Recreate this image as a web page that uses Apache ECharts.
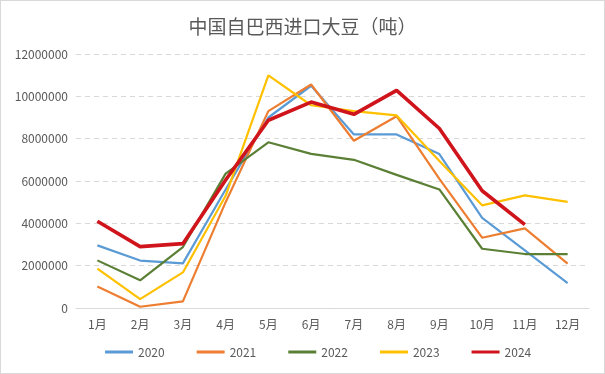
<!DOCTYPE html>
<html><head><meta charset="utf-8">
<script src="https://cdn.jsdelivr.net/npm/echarts@6/dist/echarts.min.js"></script>
<style>html,body{margin:0;padding:0;background:#fff}#c{width:603px;height:372px;border:1px solid #d9d9d9}</style>
</head><body><div id="c"></div>
<script>
const categories = ['1月','2月','3月','4月','5月','6月','7月','8月','9月','10月','11月','12月'];
const yTicks = [0, 2000000, 4000000, 6000000, 8000000, 10000000, 12000000];
const s2020 = [2960000, 2240000, 2110000, 5600000, 9000000, 10500000, 8200000, 8200000, 7270000, 4260000, 2720000, 1170000];
const s2021 = [1020000, 60000, 310000, 5000000, 9300000, 10560000, 7900000, 9060000, 6100000, 3320000, 3760000, 2100000];
const s2022 = [2250000, 1310000, 2880000, 6350000, 7830000, 7280000, 7000000, 6290000, 5600000, 2800000, 2550000, 2550000];
const s2023 = [1860000, 420000, 1680000, 5300000, 10990000, 9580000, 9300000, 9100000, 6950000, 4850000, 5320000, 5010000];
const s2024 = [4100000, 2900000, 3040000, 6050000, 8870000, 9730000, 9150000, 10280000, 8480000, 5540000, 3940000, null];
const seriesNames = ['2020','2021','2022','2023','2024'];
const colors = ['#5B9BD5','#ED7D31','#5A7F35','#FFC000','#D0141B'];
const widths = [2.2,2.2,2.2,2.2,3.6];
const allData = [s2020,s2021,s2022,s2023,s2024];

const chart = echarts.init(document.getElementById('c'));
const font = '"Noto Sans CJK SC", "Microsoft YaHei", sans-serif';
chart.setOption({
  animation: false,
  textStyle: {fontFamily: font},
  title: {text: '中国自巴西进口大豆（吨）', left: 'center', top: 11,
    textStyle: {fontSize: 19, fontWeight: 'normal', color: '#595959', fontFamily: font}},
  grid: {left: 75, right: 15, top: 53, bottom: 65},
  legend: {bottom: 10, left: 99, icon: 'rect', itemWidth: 28, itemHeight: 3, itemGap: 32,
    textStyle: {fontSize: 12, color: '#595959', fontFamily: font},
    data: seriesNames},
  xAxis: {type: 'category', data: categories, boundaryGap: true,
    axisLine: {lineStyle: {color: '#d9d9d9'}}, axisTick: {show: false},
    axisLabel: {color: '#595959', fontSize: 12, margin: 10}},
  yAxis: {type: 'value', min: yTicks[0], max: yTicks[yTicks.length-1], interval: 2000000,
    axisLine: {show: false}, axisTick: {show: false},
    axisLabel: {color: '#595959', fontSize: 12, margin: 8, formatter: v => String(v)},
    splitLine: {lineStyle: {color: '#d9d9d9', type: [5, 4]}}},
  series: seriesNames.map((n, i) => ({
    name: n, type: 'line', data: allData[i], symbol: 'none',
    itemStyle: {color: colors[i]},
    lineStyle: {color: colors[i], width: widths[i]},
    z: i === 4 ? 10 : 2 + i
  }))
});
</script></body></html>
